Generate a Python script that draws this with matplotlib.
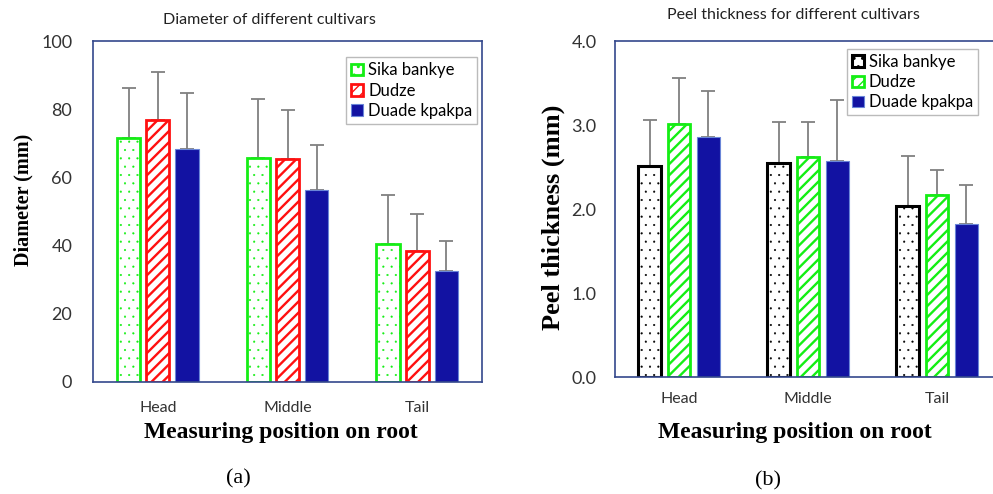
"""Diameter and peel thickness of three cultivars, two bar panels."""
import matplotlib
matplotlib.use('Agg')
import matplotlib.pyplot as plt
import numpy as np

positions = ['Head', 'Middle', 'Tail']
cultivars = ['Sika bankye', 'Dudze', 'Duade kpakpa']

# panel (a): diameter (mm), mean and upper SD
diam_sika = [71.5, 65.8, 40.6]
diam_dudze = [76.7, 65.5, 38.4]
diam_duade = [68.2, 56.4, 32.5]
diam_sika_sd = [14.6, 17.3, 14.3]
diam_dudze_sd = [14.3, 14.3, 11.0]
diam_duade_sd = [16.5, 13.2, 8.9]

# panel (b): peel thickness (mm)
peel_sika = [2.51, 2.55, 2.03]
peel_dudze = [3.01, 2.62, 2.17]
peel_duade = [2.86, 2.57, 1.82]
peel_sika_sd = [0.55, 0.48, 0.60]
peel_dudze_sd = [0.55, 0.41, 0.29]
peel_duade_sd = [0.54, 0.73, 0.46]

SANS = 'Lato'
SERIF = 'Liberation Serif'
SPINE = '#34488c'
BLUE = '#1212a2'
GREEN = '#14ee14'
RED = '#ff1010'
ERR = '#808080'

W, H = 993, 494
fig = plt.figure(figsize=(W / 100, H / 100), dpi=100)
fig.patch.set_facecolor('white')


def px_axes(x0, y0, x1, y1):
    return fig.add_axes([x0 / W, 1 - y1 / H, (x1 - x0) / W, (y1 - y0) / H])


def draw_panel(ax, series, sds, styles, ylim, yticks, yfmt, pad_x, pad_y):
    x = np.arange(len(positions))
    bw, step = 0.178, 0.225
    for i, (vals, sd, st) in enumerate(zip(series, sds, styles)):
        st = dict(st)
        hlw = st.pop('hlw', 1.0)
        xi = x + (i - 1) * step
        with plt.rc_context({'hatch.linewidth': hlw}):
            bars = ax.bar(xi, vals, bw, label=cultivars[i], zorder=2, **st)
        for p in bars:
            if hasattr(p, 'set_hatch_linewidth'):
                p.set_hatch_linewidth(hlw)
        ax.errorbar(xi, vals, yerr=[np.zeros(len(sd)), sd], fmt='none',
                    ecolor=ERR, elinewidth=1.3, capsize=5, capthick=1.3,
                    zorder=1)
    ax.set_xlim(-0.5, 2.5)
    ax.set_ylim(*ylim)
    ax.set_yticks(yticks)
    ax.set_yticklabels([yfmt.format(v) for v in yticks],
                       fontsize=13, family=SANS, color='#333333')
    ax.set_xticks(x)
    ax.set_xticklabels(positions, fontsize=11.5, family=SANS, color='#333333')
    ax.tick_params(axis='both', length=0)
    ax.tick_params(axis='y', pad=pad_y)
    ax.tick_params(axis='x', pad=pad_x)
    for s in ax.spines.values():
        s.set_color(SPINE)
        s.set_linewidth(1.2)


def add_legend(ax, anchor, loc):
    leg = ax.legend(loc=loc, bbox_to_anchor=anchor,
                    prop={'family': SANS, 'size': 12}, frameon=True,
                    fancybox=False, edgecolor='#bbbbbb', handlelength=0.7,
                    handleheight=0.7, handletextpad=0.3, borderpad=0.3,
                    labelspacing=0.25, borderaxespad=0, framealpha=1)
    leg.get_frame().set_linewidth(1.0)
    return leg


# ── (a) diameter ───────────────────────────────────────────────────────────
ax1 = px_axes(93, 41, 482, 382)
styles_a = [
    dict(facecolor='white', edgecolor=GREEN, linewidth=2, hatch='..', hlw=0.3),
    dict(facecolor='white', edgecolor=RED, linewidth=2, hatch='///', hlw=1.7),
    dict(facecolor=BLUE, edgecolor='#6a86d8', linewidth=0.8),
]
draw_panel(ax1, [diam_sika, diam_dudze, diam_duade],
           [diam_sika_sd, diam_dudze_sd, diam_duade_sd],
           styles_a, (0, 100), [0, 20, 40, 60, 80, 100], '{:.0f}', 14, 15)
add_legend(ax1, (0.988, 0.952), 'upper right')

# ── (b) peel thickness ─────────────────────────────────────────────────────
ax2 = px_axes(614.5, 41, 1001.5, 377)
styles_b = [
    dict(facecolor='white', edgecolor='black', linewidth=2.2, hatch='..', hlw=0.3),
    dict(facecolor='white', edgecolor=GREEN, linewidth=2, hatch='///', hlw=1.7),
    dict(facecolor=BLUE, edgecolor='#6a86d8', linewidth=0.8),
]
draw_panel(ax2, [peel_sika, peel_dudze, peel_duade],
           [peel_sika_sd, peel_dudze_sd, peel_duade_sd],
           styles_b, (0, 4), [0, 1, 2, 3, 4], '{:.1f}', 11, 13)
add_legend(ax2, (0.601, 0.976), 'upper left')

# ── titles and axis labels ─────────────────────────────────────────────────
fig.text(269 / W, 1 - 20 / H, 'Diameter of different cultivars',
         ha='center', va='center', fontsize=11.5, family=SANS, color='#222222')
fig.text(793 / W, 1 - 15 / H, 'Peel thickness for different cultivars',
         ha='center', va='center', fontsize=11.5, family=SANS, color='#222222')

fig.text(23 / W, 1 - 200 / H, 'Diameter (mm)', rotation=90,
         ha='center', va='center', fontsize=14.5, family=SERIF,
         fontweight='bold')
fig.text(553 / W, 1 - 217 / H, 'Peel thickness (mm)', rotation=90,
         ha='center', va='center', fontsize=19, family=SERIF,
         fontweight='bold')

fig.text(281 / W, 1 - 432 / H, 'Measuring position on root',
         ha='center', va='center', fontsize=17, family=SERIF,
         fontweight='bold')
fig.text(795 / W, 1 - 432 / H, 'Measuring position on root',
         ha='center', va='center', fontsize=17, family=SERIF,
         fontweight='bold')

fig.text(238 / W, 1 - 479 / H, '(a)', ha='center', va='center',
         fontsize=16, family=SERIF)
fig.text(768 / W, 1 - 481 / H, '(b)', ha='center', va='center',
         fontsize=16, family=SERIF)

fig.savefig('out.png', dpi=100, facecolor='white')
